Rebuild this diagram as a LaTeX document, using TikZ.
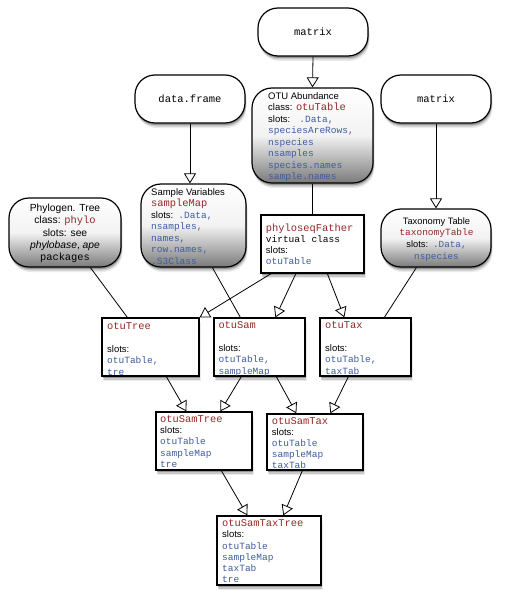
\documentclass[tikz,border=0pt]{standalone}
\usepackage{fontspec}
\setmainfont{Liberation Sans}
\setmonofont{Liberation Mono}
\usetikzlibrary{arrows.meta,shadows}
\definecolor{clsred}{RGB}{150,40,40}
\definecolor{sltblue}{RGB}{62,92,160}
\newcommand{\clsname}[1]{{\ttfamily\fontsize{10.4}{11.4}\selectfont\color{clsred}#1}}
\newcommand{\sltname}[1]{{\ttfamily\color{sltblue}#1}}
\newcommand{\bigmono}[1]{{\ttfamily\fontsize{10.4}{11.4}\selectfont #1}}
\begin{document}
\begin{tikzpicture}[x=1pt,y=-1pt,
  shadowed/.style={
    drop shadow={shadow xshift=1.5pt,shadow yshift=-5pt,fill=black,opacity=0.08},
    drop shadow={shadow xshift=1pt,shadow yshift=-3.5pt,fill=black,opacity=0.15},
    drop shadow={shadow xshift=0.5pt,shadow yshift=-2pt,fill=black,opacity=0.25}},
  topbox/.style={draw, line width=1.2pt, rounded corners=20pt, fill=white, shadowed, inner sep=0pt,
     minimum width=110pt, minimum height=48pt, font=\ttfamily\fontsize{10.5}{12}\selectfont},
  graybox/.style={draw, line width=1.2pt, rounded corners=20pt, top color=white, bottom color=black!52,
     middle color=black!5, shadowed, inner sep=0pt},
  classbox/.style={draw, line width=1.3pt, fill=white, shadowed, inner sep=0pt},
  txt/.style={inner sep=0pt, anchor=north west, align=left, font=\fontsize{9.5}{11.4}\selectfont},
  ctxt/.style={inner sep=0pt, anchor=north, align=center},
  link/.style={line width=0.8pt},
  inherit/.style={line width=0.8pt, -{Triangle[open, length=10pt, width=12pt, line width=0.8pt]}},
]
\useasboundingbox (0,0) rectangle (505,599);

% top level boxes
\node[topbox] (mtx) at (313,32) {matrix};
\node[topbox] (df) at (190,99) {data.frame};
\node[topbox] (mtxb) at (436,99) {matrix};

% gray rounded boxes
\node[graybox, minimum width=121pt, minimum height=95pt] (otu) at (312.5,135.5) {};
\node[graybox, minimum width=105pt, minimum height=83pt] (sv) at (193.5,225.5) {};
\node[graybox, minimum width=112pt, minimum height=69pt] (phy) at (65,232.5) {};
\node[graybox, minimum width=110pt, minimum height=58pt] (tax) at (436,238) {};

% class boxes
\node[classbox, minimum width=103pt, minimum height=58pt] (pf) at (312.5,244) {};
\node[classbox, minimum width=97pt, minimum height=58pt] (otuTree) at (150.5,347) {};
\node[classbox, minimum width=91pt, minimum height=58pt] (otuSam) at (259.5,347) {};
\node[classbox, minimum width=91pt, minimum height=58pt] (otuTax) at (365.5,347) {};
\node[classbox, minimum width=96pt, minimum height=58pt] (otuSamTree) at (204,441) {};
\node[classbox, minimum width=96pt, minimum height=56pt] (otuSamTax) at (315,442) {};
\node[classbox, minimum width=104pt, minimum height=69pt] (otuSamTaxTree) at (269,550.5) {};

% texts
\node[txt, font=\fontsize{9.5}{11.5}\selectfont] (otuT) at (268,91) {\strut OTU Abundance\\
class: \clsname{otuTable}\\
slots:\hspace{9pt}\sltname{.Data,}\\
\sltname{speciesAreRows,}\\
\sltname{nspecies}\\
\sltname{nsamples}\\
\sltname{species.names}\\
\sltname{sample.names}};

\node[txt, font=\fontsize{9.5}{11.5}\selectfont] (svT) at (151,187) {\strut Sample Variables\\
\clsname{sampleMap}\\
slots:\hspace{5pt}\sltname{.Data,}\\
\sltname{nsamples,}\\
\sltname{names,}\\
\sltname{row.names,}\\
\sltname{.S3Class}};

\node[ctxt, font=\fontsize{10.3}{12.2}\selectfont] (phyT) at (65,203) {\strut Phylogen. Tree\\
class: \clsname{phylo}\\
slots: see\\
\textit{phylobase}, \textit{ape}\\
\bigmono{packages}};

\node[txt, font=\fontsize{9.5}{11}\selectfont] (pfT) at (265.7,224) {\strut\clsname{phyloseqFather}\\
{\ttfamily virtual class}\\
slots:\\
\sltname{otuTable}};

\node[ctxt, font=\fontsize{9.3}{11.7}\selectfont] (taxT) at (436.5,215.8) {\strut Taxonomy Table\\
{\ttfamily\fontsize{9.5}{11.7}\selectfont\color{clsred}taxonomyTable}\\
slots:\hspace{5pt}\sltname{.Data,}\\
\sltname{nspecies}};

\node[txt] (otuTreeT) at (107,321.3) {\strut\clsname{otuTree}\\[11.4pt]
slots:\\
\sltname{otuTable,}\\
\sltname{tre}};

\node[txt] (otuSamT) at (218.3,320.3) {\strut\clsname{otuSam}\\[11.4pt]
slots:\\
\sltname{otuTable,}\\
\sltname{sampleMap}};

\node[txt] (otuTaxT) at (325,320.3) {\strut\clsname{otuTax}\\[11.4pt]
slots:\\
\sltname{otuTable,}\\
\sltname{taxTab}};

\node[txt, font=\fontsize{9.5}{11.2}\selectfont] (otuSamTreeT) at (160,414.5) {\strut\clsname{otuSamTree}\\
slots:\\
\sltname{otuTable}\\
\sltname{sampleMap}\\
\sltname{tre}};

\node[txt, font=\fontsize{9.5}{11.2}\selectfont] (otuSamTaxT) at (271.7,416) {\strut\clsname{otuSamTax}\\
slots:\\
\sltname{otuTable}\\
\sltname{sampleMap}\\
\sltname{taxTab}};

\node[txt, font=\fontsize{9.5}{11.3}\selectfont] (otuSamTaxTreeT) at (222,518.3) {\strut\clsname{otuSamTaxTree}\\
slots:\\
\sltname{otuTable}\\
\sltname{sampleMap}\\
\sltname{taxTab}\\
\sltname{tre}};

% connectors
\draw[inherit] (mtx.south) -- (otu.north);
\draw[inherit] (df.south) -- (df.south |- sv.north);
\draw[inherit] (mtxb.south) -- (tax.north);
\draw[link] (otu.south) -- (pf.north);
\draw[inherit] ([xshift=10.7pt]pf.south west) -- (otuTree.north east);
\draw[inherit] ([xshift=35.5pt]pf.south west) -- ([xshift=62pt]otuSam.north west);
\draw[inherit] ([xshift=67pt]pf.south west) -- ([xshift=25pt]otuTax.north west);
\draw[link] ([xshift=72pt]sv.south west) -- ([xshift=27pt]otuSam.north west);
\draw[link] ([xshift=82pt]phy.south west) -- ([xshift=26pt]otuTree.north west);
\draw[link] ([xshift=36pt]tax.south west) -- ([xshift=65pt]otuTax.north west);
\draw[inherit] ([xshift=65pt]otuTree.south west) -- ([xshift=31pt]otuSamTree.north west);
\draw[inherit] ([xshift=28pt]otuSam.south west) -- ([xshift=65pt]otuSamTree.north west);
\draw[inherit] ([xshift=63pt]otuSam.south west) -- ([xshift=30pt]otuSamTax.north west);
\draw[inherit] ([xshift=29pt]otuTax.south west) -- ([xshift=64pt]otuSamTax.north west);
\draw[inherit] ([xshift=66pt]otuSamTree.south west) -- ([xshift=31pt]otuSamTaxTree.north west);
\draw[inherit] ([xshift=36pt]otuSamTax.south west) -- ([xshift=67pt]otuSamTaxTree.north west);
\end{tikzpicture}
\end{document}
